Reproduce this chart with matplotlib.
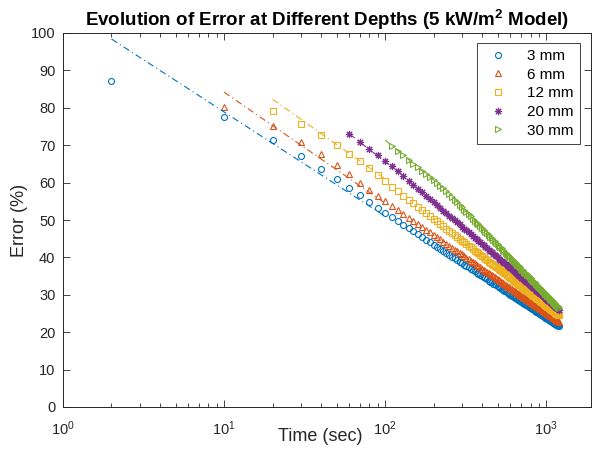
"""
Evolution of error with time at different depths (5 kW/m2 model)
"""

#---------------------------------------------------------------------------------------------------
# Import Modules
#---------------------------------------------------------------------------------------------------

import numpy as np
import matplotlib
matplotlib.use('Agg')
import matplotlib.pyplot as plt


#---------------------------------------------------------------------------------------------------
# Input Parameters
#---------------------------------------------------------------------------------------------------

# Sample times (sec); the 3 mm record also has an early sample at 2 s
time = np.arange(10, 1201, 10)

err_3mm = [87.2,
           77.6, 71.4, 67.1, 63.6, 60.9, 58.6, 56.6, 54.9, 53.3,
           51.9, 50.7, 49.7, 48.7, 47.8, 47.0, 46.2, 45.4, 44.7, 44.1,
           43.4, 42.8, 42.3, 41.7, 41.2, 40.7, 40.2, 39.8, 39.3, 38.9,
           38.5, 38.1, 37.7, 37.3, 37.0, 36.6, 36.3, 35.9, 35.6, 35.3,
           35.0, 34.7, 34.4, 34.1, 33.8, 33.5, 33.3, 33.0, 32.8, 32.5,
           32.3, 32.0, 31.8, 31.5, 31.3, 31.1, 30.9, 30.7, 30.4, 30.2,
           30.0, 29.8, 29.6, 29.4, 29.2, 29.1, 28.9, 28.7, 28.5, 28.3,
           28.2, 28.0, 27.8, 27.6, 27.5, 27.3, 27.2, 27.0, 26.8, 26.7,
           26.5, 26.4, 26.2, 26.1, 25.9, 25.8, 25.6, 25.5, 25.4, 25.2,
           25.1, 25.0, 24.8, 24.7, 24.6, 24.4, 24.3, 24.2, 24.0, 23.9,
           23.8, 23.7, 23.6, 23.4, 23.3, 23.2, 23.1, 23.0, 22.9, 22.7,
           22.6, 22.5, 22.4, 22.3, 22.2, 22.1, 22.0, 21.9, 21.8, 21.7,
           21.6]

err_6mm = [80.3, 75.1, 70.9, 67.6, 64.6, 62.2, 60.0, 58.1, 56.5,
           55.0, 53.8, 52.6, 51.6, 50.6, 49.7, 48.9, 48.1, 47.4, 46.7,
           46.0, 45.4, 44.8, 44.2, 43.7, 43.1, 42.6, 42.1, 41.7, 41.2,
           40.8, 40.3, 39.9, 39.5, 39.1, 38.8, 38.4, 38.0, 37.7, 37.4,
           37.0, 36.7, 36.4, 36.1, 35.8, 35.5, 35.2, 34.9, 34.7, 34.4,
           34.1, 33.9, 33.6, 33.4, 33.1, 32.9, 32.7, 32.4, 32.2, 32.0,
           31.8, 31.6, 31.3, 31.1, 30.9, 30.7, 30.5, 30.3, 30.2, 30.0,
           29.8, 29.6, 29.4, 29.2, 29.1, 28.9, 28.7, 28.5, 28.4, 28.2,
           28.0, 27.9, 27.7, 27.6, 27.4, 27.3, 27.1, 27.0, 26.8, 26.7,
           26.5, 26.4, 26.2, 26.1, 26.0, 25.8, 25.7, 25.5, 25.4, 25.3,
           25.2, 25.0, 24.9, 24.8, 24.6, 24.5, 24.4, 24.3, 24.2, 24.0,
           23.9, 23.8, 23.7, 23.6, 23.5, 23.3, 23.2, 23.1, 23.0, 22.9,
           22.8]

err_12mm = [79.2, 75.7, 72.6, 70.0, 67.7, 65.7, 63.8, 62.0,
            60.3, 58.9, 57.7, 56.5, 55.4, 54.5, 53.5, 52.7, 51.8, 51.0,
            50.3, 49.6, 48.9, 48.3, 47.7, 47.1, 46.5, 46.0, 45.5, 44.9,
            44.5, 44.0, 43.5, 43.1, 42.7, 42.2, 41.8, 41.4, 41.1, 40.7,
            40.3, 40.0, 39.6, 39.3, 38.9, 38.6, 38.3, 38.0, 37.7, 37.4,
            37.1, 36.8, 36.5, 36.3, 36.0, 35.7, 35.5, 35.2, 35.0, 34.7,
            34.5, 34.2, 34.0, 33.8, 33.5, 33.3, 33.1, 32.9, 32.7, 32.5,
            32.2, 32.0, 31.8, 31.6, 31.4, 31.2, 31.1, 30.9, 30.7, 30.5,
            30.3, 30.1, 30.0, 29.8, 29.6, 29.4, 29.3, 29.1, 28.9, 28.8,
            28.6, 28.5, 28.3, 28.1, 28.0, 27.8, 27.7, 27.5, 27.4, 27.2,
            27.1, 27.0, 26.8, 26.7, 26.5, 26.4, 26.3, 26.1, 26.0, 25.9,
            25.7, 25.6, 25.5, 25.3, 25.2, 25.1, 25.0, 24.8, 24.7, 24.6,
            24.5]

err_20mm = [73.0, 70.9, 69.1, 67.4,
            65.9, 64.4, 63.0, 61.7, 60.5, 59.4, 58.3, 57.4, 56.5, 55.6,
            54.8, 54.0, 53.2, 52.5, 51.8, 51.2, 50.5, 49.9, 49.4, 48.8,
            48.2, 47.7, 47.2, 46.7, 46.2, 45.8, 45.3, 44.9, 44.4, 44.0,
            43.6, 43.2, 42.8, 42.5, 42.1, 41.7, 41.4, 41.0, 40.7, 40.4,
            40.0, 39.7, 39.4, 39.1, 38.8, 38.5, 38.2, 37.9, 37.7, 37.4,
            37.1, 36.8, 36.6, 36.3, 36.1, 35.8, 35.6, 35.3, 35.1, 34.9,
            34.6, 34.4, 34.2, 34.0, 33.7, 33.5, 33.3, 33.1, 32.9, 32.7,
            32.5, 32.3, 32.1, 31.9, 31.7, 31.5, 31.3, 31.1, 31.0, 30.8,
            30.6, 30.4, 30.2, 30.1, 29.9, 29.7, 29.6, 29.4, 29.2, 29.1,
            28.9, 28.7, 28.6, 28.4, 28.3, 28.1, 28.0, 27.8, 27.7, 27.5,
            27.4, 27.2, 27.1, 26.9, 26.8, 26.7, 26.5, 26.4, 26.2, 26.1,
            26.0]

err_30mm = [69.8, 68.5, 67.3, 66.1, 65.1, 64.1, 63.1, 62.3, 61.4,
            60.6, 59.9, 59.2, 58.5, 57.7, 56.9, 56.1, 55.4, 54.7, 54.0,
            53.4, 52.7, 52.1, 51.5, 51.0, 50.4, 49.8, 49.3, 48.8, 48.3,
            47.8, 47.3, 46.9, 46.4, 46.0, 45.5, 45.1, 44.7, 44.3, 43.9,
            43.5, 43.1, 42.7, 42.4, 42.0, 41.7, 41.3, 41.0, 40.6, 40.3,
            40.0, 39.7, 39.4, 39.0, 38.7, 38.4, 38.1, 37.9, 37.6, 37.3,
            37.0, 36.7, 36.5, 36.2, 35.9, 35.7, 35.4, 35.2, 34.9, 34.7,
            34.4, 34.2, 34.0, 33.7, 33.5, 33.3, 33.0, 32.8, 32.6, 32.4,
            32.2, 31.9, 31.7, 31.5, 31.3, 31.1, 30.9, 30.7, 30.5, 30.3,
            30.1, 29.9, 29.7, 29.6, 29.4, 29.2, 29.0, 28.8, 28.6, 28.5,
            28.3, 28.1, 27.9, 27.8, 27.6, 27.4, 27.3, 27.1, 26.9, 26.8,
            26.6]

# Early-time log fits (start/end time and error at each end)
fit_t = {'3mm': [2, 100], '6mm': [10, 100], '12mm': [20, 100],
         '20mm': [60, 120], '30mm': [100, 200]}
fit_err = {'3mm': [98.4, 51.0], '6mm': [84.2, 54.5], '12mm': [82.3, 61.0],
           '20mm': [73.0, 63.0], '30mm': [71.4, 60.6]}

depths = ['3mm', '6mm', '12mm', '20mm', '30mm']
labels = ['3 mm', '6 mm', '12 mm', '20 mm', '30 mm']
start_times = {'3mm': 10, '6mm': 10, '12mm': 20, '20mm': 60, '30mm': 110}
errors = {'3mm': err_3mm, '6mm': err_6mm, '12mm': err_12mm, '20mm': err_20mm, '30mm': err_30mm}

# MATLAB default colour order and markers
colors = ['#0072BD', '#D95319', '#EDB120', '#7E2F8E', '#77AC30']
markers = ['o', '^', 's', (8, 2, 0), '>']
msizes = [4.3, 4.6, 4.0, 5.2, 4.6]

out_fname = 'out.png'


#---------------------------------------------------------------------------------------------------
# Make Plot
#---------------------------------------------------------------------------------------------------

plt.rcParams['font.family'] = ['Liberation Sans', 'DejaVu Sans']
plt.rcParams['mathtext.fontset'] = 'custom'
plt.rcParams['mathtext.rm'] = 'Liberation Sans'
plt.rcParams['mathtext.bf'] = 'Liberation Sans:bold'
axcol = '#262626'

fig = plt.figure(figsize=(5.93, 4.53), dpi=100)
ax = fig.add_axes([63/593, 1 - 407/453, (591 - 63)/593, (407 - 33)/453])

handles = []
for i, d in enumerate(depths):
    t = time[time >= start_times[d]]
    if d == '3mm':
        t = np.concatenate(([2], t))
    h, = ax.plot(t, errors[d], linestyle='none', marker=markers[i], ms=msizes[i],
                 mfc='none', mec=colors[i], mew=0.8, label=labels[i])
    handles.append(h)

for i, d in enumerate(depths):
    ax.plot(fit_t[d], fit_err[d], color=colors[i], lw=0.8, ls=(0, (6, 3, 1, 3)))

ax.set_xscale('log')
ax.set_xlim(1, 1900)
ax.set_ylim(0, 100)
ax.set_yticks(np.arange(0, 101, 10))

ax.tick_params(which='both', direction='in', top=True, right=True, colors=axcol,
               labelsize=10.5, width=0.6)
ax.tick_params(which='major', length=5)
ax.tick_params(which='minor', length=3)
ax.tick_params(axis='x', which='major', pad=9)
ax.tick_params(axis='y', which='major', pad=5.5)
for sp in ax.spines.values():
    sp.set_color(axcol)
    sp.set_linewidth(0.7)

ax.set_xlabel('Time (sec)', size=13, color=axcol)
ax.xaxis.set_label_coords(0.487, -0.055)
ax.set_ylabel('Error (%)', size=13, color=axcol)
ax.yaxis.set_label_coords(-0.066, 0.5)
ax.set_title('Evolution of Error at Different Depths (5 kW/m$^\\mathbf{2}$ Model)',
             size=13.5, fontweight='bold', pad=5)

leg = ax.legend(handles=handles, loc='upper right', bbox_to_anchor=(0.979, 0.973),
                borderaxespad=0, fontsize=11, handlelength=2.0, handletextpad=0.9,
                labelspacing=0.3, borderpad=0.4, fancybox=False, framealpha=1,
                edgecolor=axcol)
leg.get_frame().set_linewidth(0.6)

plt.savefig(out_fname, dpi=100)
